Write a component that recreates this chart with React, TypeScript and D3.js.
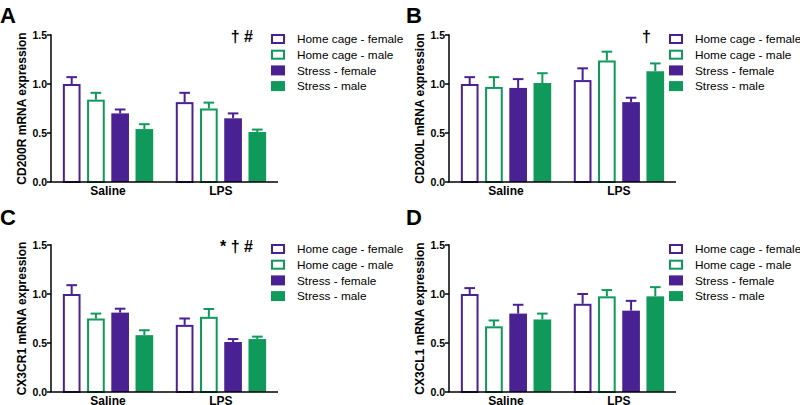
import React from "react";
import * as d3 from "d3";

const width = 800;
const height = 405;

const groups = ["Saline", "LPS"];
const seriesNames = [
  "Home cage - female",
  "Home cage - male",
  "Stress - female",
  "Stress - male"
];
const yTicks = [0, 0.5, 1.0, 1.5];

// means and SEMs, order: Saline (4 series) then LPS (4 series)
const cd200rMean = [1.0, 0.84, 0.7, 0.54, 0.815, 0.75, 0.65, 0.51];
const cd200rSem = [0.07, 0.07, 0.04, 0.05, 0.095, 0.06, 0.05, 0.025];
const cd200lMean = [1.0, 0.97, 0.96, 1.01, 1.04, 1.24, 0.815, 1.13];
const cd200lSem = [0.07, 0.1, 0.09, 0.1, 0.12, 0.09, 0.045, 0.08];
const cx3cr1Mean = [1.0, 0.75, 0.81, 0.58, 0.685, 0.767, 0.51, 0.54];
const cx3cr1Sem = [0.09, 0.05, 0.04, 0.05, 0.065, 0.08, 0.03, 0.025];
const cx3cl1Mean = [1.0, 0.67, 0.8, 0.74, 0.9, 0.976, 0.83, 0.976];
const cx3cl1Sem = [0.06, 0.06, 0.09, 0.06, 0.1, 0.064, 0.1, 0.094];

const purple = "#4a2192";
const green = "#0f9a5b";
const colors = [purple, green, purple, green];
const filled = [false, false, true, true];

const font = "Arial, 'Liberation Sans', Helvetica, sans-serif";

const axisLeft = 51;
const axisRight = 278;
const yTop = 35;
const yBottom = 182;

const yScale = d3.scaleLinear().domain([0, 1.5]).range([yBottom, yTop]);
const xGroup = d3
  .scaleBand()
  .domain(groups)
  .range([axisLeft, axisRight])
  .paddingInner(0.2)
  .paddingOuter(0.105);
const xSeries = d3
  .scaleBand()
  .domain(seriesNames)
  .range([0, xGroup.bandwidth()])
  .paddingInner(0.27)
  .paddingOuter(0);

const Panel = ({ x0, y0, title, means, sems, note }) => {
  const bw = xSeries.bandwidth();
  const capW = bw * 0.6;
  return (
    <g transform={`translate(${x0},${y0})`} fontFamily={font}>
      {groups.map((g, gi) =>
        seriesNames.map((s, si) => {
          const i = gi * 4 + si;
          const x = xGroup(g) + xSeries(s);
          const yv = yScale(means[i]);
          const ye = yScale(means[i] + sems[i]);
          const cx = x + bw / 2;
          return (
            <g key={i}>
              <line x1={cx} x2={cx} y1={yv} y2={ye} stroke={colors[si]} strokeWidth={2} />
              <line x1={cx - capW / 2} x2={cx + capW / 2} y1={ye} y2={ye} stroke={colors[si]} strokeWidth={2} />
              {filled[si] ? (
                <rect x={x} y={yv} width={bw} height={yBottom - yv} fill={colors[si]} />
              ) : (
                <rect
                  x={x + 1}
                  y={yv + 1}
                  width={bw - 2}
                  height={yBottom - yv - 1}
                  fill="white"
                  stroke={colors[si]}
                  strokeWidth={2}
                />
              )}
            </g>
          );
        })
      )}
      <line x1={axisLeft} x2={axisLeft} y1={yTop - 0.75} y2={yBottom} stroke="black" strokeWidth={1.5} />
      <line x1={axisLeft - 0.75} x2={axisRight} y1={yBottom} y2={yBottom} stroke="black" strokeWidth={1.5} />
      {yTicks.map(t => (
        <g key={t}>
          <line x1={axisLeft - 4} x2={axisLeft} y1={yScale(t)} y2={yScale(t)} stroke="black" strokeWidth={1.5} />
          <text
            x={axisLeft - 4}
            y={yScale(t)}
            dy="0.35em"
            textAnchor="end"
            fontSize={10.5}
            fontWeight="bold"
          >
            {t.toFixed(1)}
          </text>
        </g>
      ))}
      {groups.map(g => (
        <text
          key={g}
          x={xGroup(g) + xGroup.bandwidth() / 2}
          y={yBottom + 13}
          textAnchor="middle"
          fontSize={12}
          fontWeight="bold"
        >
          {g}
        </text>
      ))}
      <text
        transform={`translate(26,${(yTop + yBottom) / 2}) rotate(-90)`}
        textAnchor="middle"
        fontSize={12}
        fontWeight="bold"
      >
        {title}
      </text>
      {note && (
        <text x={253} y={42} textAnchor="end" fontSize={16} fontWeight="bold" xmlSpace="preserve">
          {note}
        </text>
      )}
      {seriesNames.map((s, si) => {
        const ly = 39 + si * 15.7;
        return (
          <g key={s}>
            {filled[si] ? (
              <rect x={271} y={ly - 5} width={14} height={10} fill={colors[si]} />
            ) : (
              <rect
                x={272}
                y={ly - 4}
                width={12}
                height={8}
                fill="white"
                stroke={colors[si]}
                strokeWidth={2}
              />
            )}
            <text x={297} y={ly} dy="0.35em" fontSize={11.8}>
              {s}
            </text>
          </g>
        );
      })}
    </g>
  );
};

const App = () => {
  return (
    <div style={{ position: "fixed", left: 0, top: 0 }}>
      <svg width={width} height={height} style={{ display: "block", background: "white" }}>
        <rect width={width} height={height} fill="white" />
        <Panel x0={0} y0={0} title="CD200R mRNA expression" means={cd200rMean} sems={cd200rSem} note="† #" />
        <Panel x0={398} y0={0} title="CD200L mRNA expression" means={cd200lMean} sems={cd200lSem} note="†" />
        <Panel x0={0} y0={210} title="CX3CR1 mRNA expression" means={cx3cr1Mean} sems={cx3cr1Sem} note="* † #" />
        <Panel x0={398} y0={210} title="CX3CL1 mRNA expression" means={cx3cl1Mean} sems={cx3cl1Sem} note={null} />
        <g fontFamily={font} fontWeight="bold" fontSize={22}>
          <text x={0} y={23}>A</text>
          <text x={406} y={23}>B</text>
          <text x={0} y={225}>C</text>
          <text x={406} y={225}>D</text>
        </g>
      </svg>
    </div>
  );
};

export default App;
